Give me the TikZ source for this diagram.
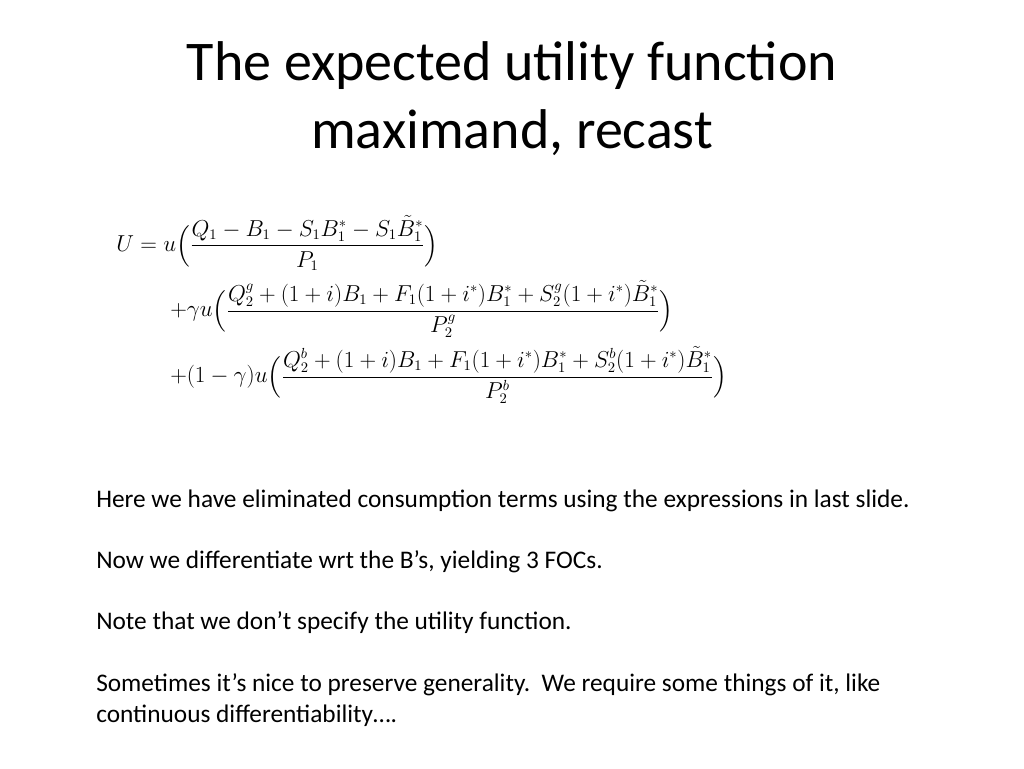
\documentclass[tikz,border=0pt]{standalone}
\usepackage{amsmath}
\usepackage{fontspec}
\setmainfont{Carlito}
\begin{document}
\begin{tikzpicture}[
    x=0.75pt, y=-0.75pt,
    % Styles
    title/.style={% For the slide title
        anchor=base,
        font=\fontsize{42}{50}\selectfont,
        },
    eq/.style={% For the rows of the equation
        anchor=west,
        inner sep=0pt,
        font=\fontsize{16}{19}\selectfont,
        },
    body/.style={% For the body text
        anchor=base west,
        inner sep=0pt,
        font=\fontsize{19}{23}\selectfont,
        },
    ]
    \useasboundingbox (0,0) rectangle (1024,768);

    % Title
    \node [title] (title1) at (512,80) {The expected utility function};
    \node [title] (title2) at (512,148) {maximand, recast};

    % Equation
    \node [eq] (row1) at (116,243) {$U = u\Bigl(\dfrac{Q_1 - B_1 - S_1B_1^{*} - S_1\tilde{B}_1^{*}}{P_1}\Bigr)$};
    \node [eq] (row2) at (170,309) {$+\gamma u\Bigl(\dfrac{Q_2^g + (1+i)B_1 + F_1(1+i^{*})B_1^{*} + S_2^g(1+i^{*})\tilde{B}_1^{*}}{P_2^g}\Bigr)$};
    \node [eq] (row3) at (170,375) {$+(1-\gamma)u\Bigl(\dfrac{Q_2^b + (1+i)B_1 + F_1(1+i^{*})B_1^{*} + S_2^b(1+i^{*})\tilde{B}_1^{*}}{P_2^b}\Bigr)$};

    % Body text
    \node [body] (note1) at (96,507) {Here we have eliminated consumption terms using the expressions in last slide.};
    \node [body] (note2) at (96,568) {Now we differentiate wrt the B’s, yielding 3 FOCs.};
    \node [body] (note3) at (96,629) {Note that we don’t specify the utility function.};
    \node [body] (note4) at (96,691) {Sometimes it’s nice to preserve generality.\ \ We require some things of it, like};
    \node [body] (note5) at (96,722) {continuous differentiability….};
\end{tikzpicture}
\end{document}
